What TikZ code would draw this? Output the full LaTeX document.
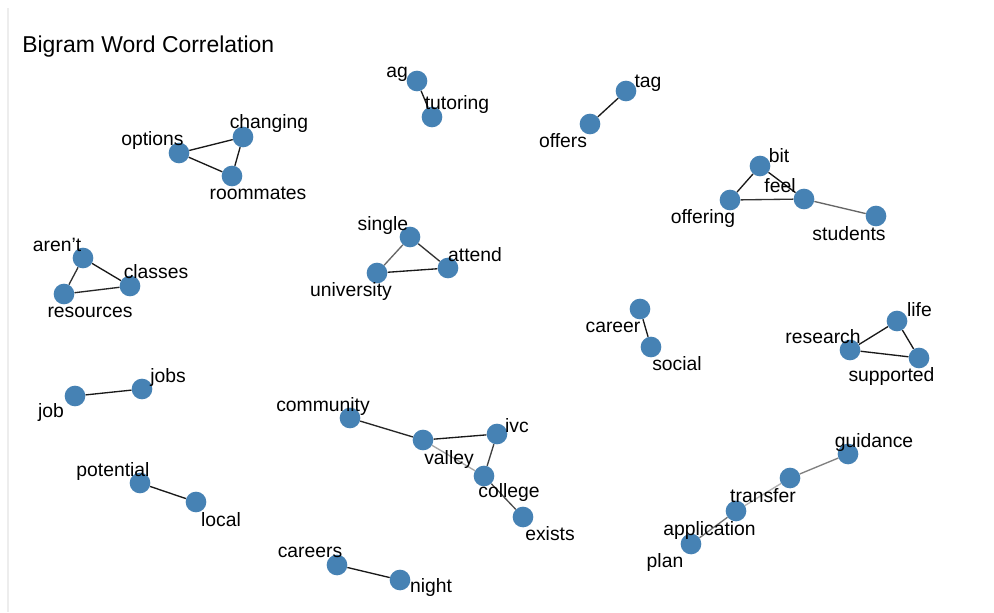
\documentclass[tikz,border=0pt]{standalone}
\usepackage{fontspec}
\setmainfont{Liberation Sans}
\usetikzlibrary{backgrounds}
\definecolor{steel}{HTML}{4682B4}
\tikzset{
  dot/.style={circle,fill=steel,draw=none,minimum size=15.5pt,inner sep=0pt},
  lbl/.style={anchor=base,inner sep=0pt,font=\fontsize{14.5pt}{16pt}\selectfont,text=black},
  edge/.style={line width=1pt,draw=#1},
  edge/.default={black!90}
}
\begin{document}
\begin{tikzpicture}[x=0.75pt,y=-0.75pt]
\useasboundingbox (0,0) rectangle (994,612);
% nodes
\node[dot] (options) at (179,153) {};
\node[dot] (changing) at (243,137) {};
\node[dot] (roommates) at (232,176) {};
\node[dot] (ag) at (417,81) {};
\node[dot] (tutoring) at (432,117) {};
\node[dot] (tag) at (626,91) {};
\node[dot] (offers) at (590,124) {};
\node[dot] (bit) at (760,166) {};
\node[dot] (offering) at (730,200) {};
\node[dot] (feel) at (804,199) {};
\node[dot] (students) at (876,216) {};
\node[dot] (arent) at (83,258) {};
\node[dot] (classes) at (130,286) {};
\node[dot] (resources) at (64,294) {};
\node[dot] (single) at (410,237) {};
\node[dot] (attend) at (448,268) {};
\node[dot] (university) at (377,273) {};
\node[dot] (career) at (640,309) {};
\node[dot] (social) at (651,347) {};
\node[dot] (life) at (897,321) {};
\node[dot] (research) at (850,350) {};
\node[dot] (supported) at (919,358) {};
\node[dot] (job) at (75,396) {};
\node[dot] (jobs) at (142,389) {};
\node[dot] (community) at (350,418) {};
\node[dot] (valley) at (423,440) {};
\node[dot] (ivc) at (497,434) {};
\node[dot] (college) at (484,476) {};
\node[dot] (exists) at (523,517) {};
\node[dot] (potential) at (140,483) {};
\node[dot] (local) at (196,502) {};
\node[dot] (guidance) at (848,454) {};
\node[dot] (transfer) at (790,478) {};
\node[dot] (application) at (736,511) {};
\node[dot] (plan) at (691,544) {};
\node[dot] (careers) at (337,565) {};
\node[dot] (night) at (400,580) {};
% labels
\node[lbl] (l-options) at (152.5,145) {options};
\node[lbl] (l-changing) at (269,128) {changing};
\node[lbl] (l-roommates) at (258,199) {roommates};
\node[lbl] (l-ag) at (397,77) {ag};
\node[lbl] (l-tutoring) at (457,109) {tutoring};
\node[lbl] (l-tag) at (648,87) {tag};
\node[lbl] (l-offers) at (563,147) {offers};
\node[lbl] (l-bit) at (779,162) {bit};
\node[lbl] (l-feel) at (780,192) {feel};
\node[lbl] (l-offering) at (703,223) {offering};
\node[lbl] (l-students) at (849,240) {students};
\node[lbl] (l-arent) at (57,251) {aren't};
\node[lbl] (l-classes) at (156,278) {classes};
\node[lbl] (l-resources) at (90,317) {resources};
\node[lbl] (l-single) at (383,230) {single};
\node[lbl] (l-attend) at (475,261) {attend};
\node[lbl] (l-university) at (351,296) {university};
\node[lbl] (l-career) at (613,332) {career};
\node[lbl] (l-social) at (677,370) {social};
\node[lbl] (l-life) at (919.5,316) {life};
\node[lbl] (l-research) at (823,343) {research};
\node[lbl] (l-supported) at (891.5,381) {supported};
\node[lbl] (l-job) at (51,417) {job};
\node[lbl] (l-jobs) at (168,382) {jobs};
\node[lbl] (l-community) at (323,411) {community};
\node[lbl] (l-valley) at (449,464) {valley};
\node[lbl] (l-ivc) at (517,432) {ivc};
\node[lbl] (l-college) at (509,497) {college};
\node[lbl] (l-exists) at (550,540) {exists};
\node[lbl] (l-potential) at (113,476) {potential};
\node[lbl] (l-local) at (221,526) {local};
\node[lbl] (l-guidance) at (874,447) {guidance};
\node[lbl] (l-transfer) at (763,502) {transfer};
\node[lbl] (l-application) at (709.5,535) {application};
\node[lbl] (l-plan) at (665,567) {plan};
\node[lbl] (l-careers) at (310,557) {careers};
\node[lbl] (l-night) at (431,592) {night};
% title
\node[anchor=base west,inner sep=0pt,font=\fontsize{17.2pt}{20pt}\selectfont] (title) at (22,52) {Bigram Word Correlation};
\begin{scope}[on background layer]
\fill[white] (0,0) rectangle (994,612);
\coordinate (frameTop) at (8,8);
\coordinate (frameBot) at (8,612);
\draw[line width=0.8pt,black!7] (frameTop) -- (frameBot);
\draw[edge] (options) -- (changing);
\draw[edge] (options) -- (roommates);
\draw[edge] (changing) -- (roommates);
\draw[edge] (ag) -- (tutoring);
\draw[edge] (tag) -- (offers);
\draw[edge] (bit) -- (offering);
\draw[edge] (bit) -- (feel);
\draw[edge=black!80] (offering) -- (feel);
\draw[edge=black!60] (feel) -- (students);
\draw[edge] (arent) -- (classes);
\draw[edge=black!80] (arent) -- (resources);
\draw[edge=black!85] (resources) -- (classes);
\draw[edge=black!80] (single) -- (attend);
\draw[edge=black!60] (single) -- (university);
\draw[edge] (university) -- (attend);
\draw[edge] (career) -- (social);
\draw[edge] (life) -- (research);
\draw[edge] (life) -- (supported);
\draw[edge] (research) -- (supported);
\draw[edge] (job) -- (jobs);
\draw[edge=black!85] (community) -- (valley);
\draw[edge] (valley) -- (ivc);
\draw[edge=black!75] (ivc) -- (college);
\draw[edge=black!35] (valley) -- (college);
\draw[edge=black!70] (college) -- (exists);
\draw[edge] (potential) -- (local);
\draw[edge=black!50] (guidance) -- (transfer);
\draw[edge=black!30] (transfer) -- (application);
\draw[edge=black!55] (application) -- (plan);
\draw[edge] (careers) -- (night);
\end{scope}
\end{tikzpicture}
\end{document}
